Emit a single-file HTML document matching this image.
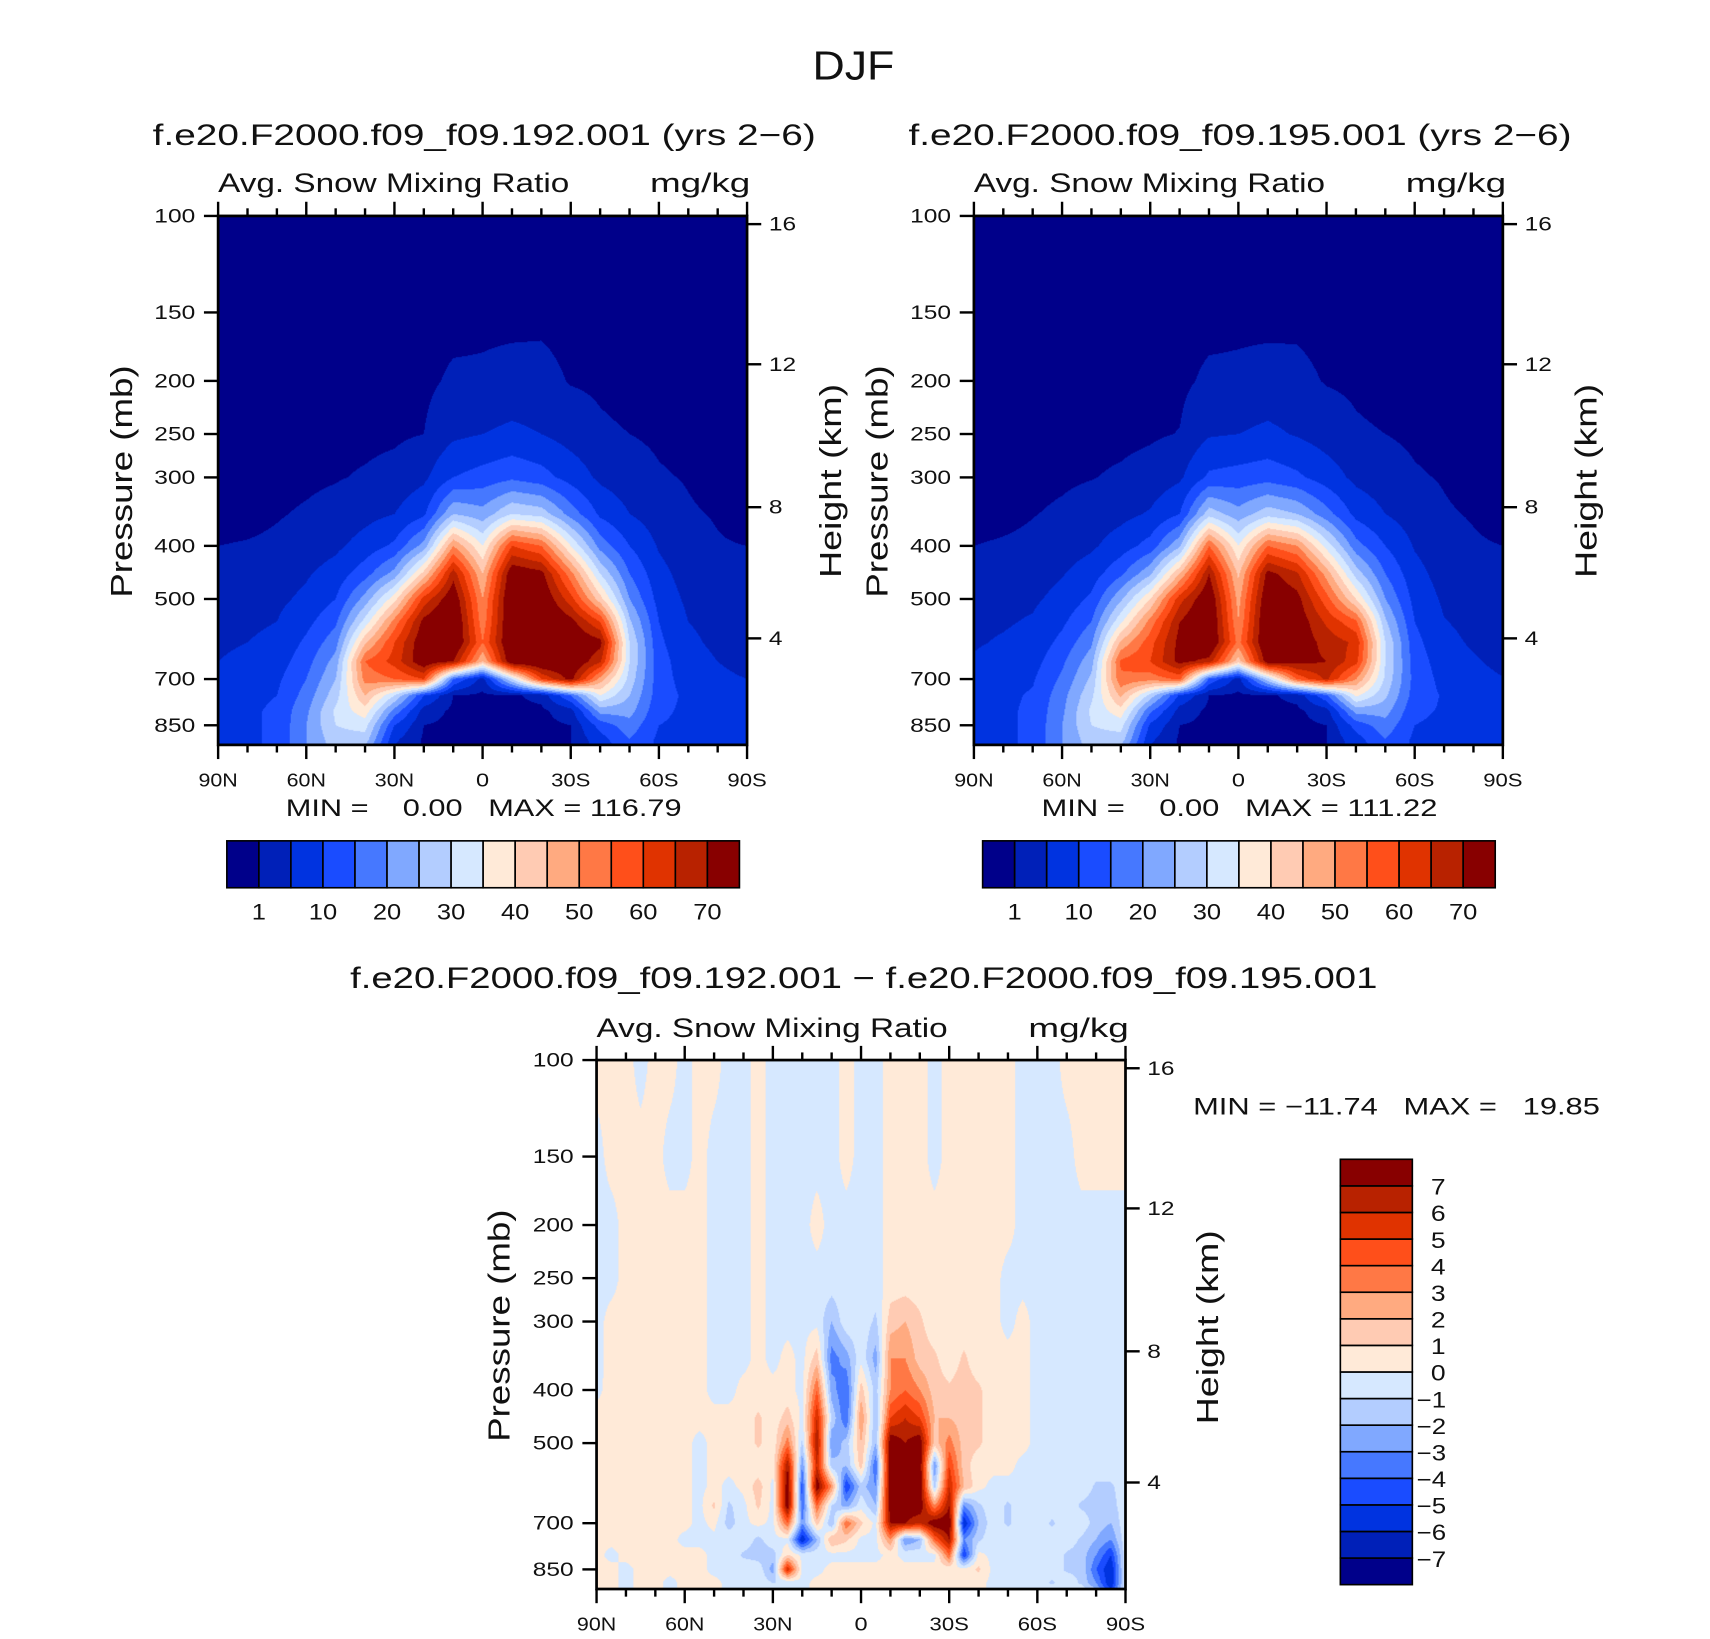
<!DOCTYPE html>
<html>
<head>
<meta charset="utf-8">
<style>
html,body{margin:0;padding:0;background:#fff;overflow:hidden;}
#root{position:absolute;left:0;top:0;width:1560px;height:1495px;transform-origin:0 0;transform:scale(1.0906,1.0906);}
#root svg{position:absolute;left:0;top:0;}
canvas{position:absolute;width:485px;height:485px;}
text{font-family:"Liberation Sans",sans-serif;fill:#111;}
</style>
</head>
<body>
<div id="root">
<canvas id="c1" width="532" height="532" style="left:200px;top:198px"></canvas>
<canvas id="c2" width="532" height="532" style="left:893px;top:198px"></canvas>
<canvas id="c3" width="532" height="532" style="left:547px;top:972px"></canvas>
<svg id="svg" width="1560" height="1495" viewBox="0 0 1560 1495">
<text x="745" y="73" font-size="37" textLength="75" lengthAdjust="spacingAndGlyphs">DJF</text>
<text x="140" y="133" font-size="27" textLength="608" lengthAdjust="spacingAndGlyphs">f.e20.F2000.f09_f09.192.001 (yrs 2−6)</text>
<text x="833" y="133" font-size="27" textLength="608" lengthAdjust="spacingAndGlyphs">f.e20.F2000.f09_f09.195.001 (yrs 2−6)</text>
<text x="321" y="906" font-size="27" textLength="942" lengthAdjust="spacingAndGlyphs">f.e20.F2000.f09_f09.192.001 − f.e20.F2000.f09_f09.195.001</text>
<text x="200" y="176" font-size="25" textLength="322" lengthAdjust="spacingAndGlyphs">Avg. Snow Mixing Ratio</text>
<text x="596" y="176" font-size="25" textLength="92" lengthAdjust="spacingAndGlyphs">mg/kg</text>
<text x="893" y="176" font-size="25" textLength="322" lengthAdjust="spacingAndGlyphs">Avg. Snow Mixing Ratio</text>
<text x="1289" y="176" font-size="25" textLength="92" lengthAdjust="spacingAndGlyphs">mg/kg</text>
<text x="547" y="951" font-size="25" textLength="322" lengthAdjust="spacingAndGlyphs">Avg. Snow Mixing Ratio</text>
<text x="943" y="951" font-size="25" textLength="92" lengthAdjust="spacingAndGlyphs">mg/kg</text>
<text x="262" y="748" font-size="22" textLength="363" lengthAdjust="spacingAndGlyphs" xml:space="preserve">MIN =    0.00   MAX = 116.79</text>
<text x="955" y="748" font-size="22" textLength="363" lengthAdjust="spacingAndGlyphs" xml:space="preserve">MIN =    0.00   MAX = 111.22</text>
<text x="1094" y="1022" font-size="22" textLength="373" lengthAdjust="spacingAndGlyphs" xml:space="preserve">MIN = −11.74   MAX =   19.85</text>
<text transform="translate(121,548) rotate(-90)" font-size="28" textLength="213" lengthAdjust="spacingAndGlyphs">Pressure (mb)</text>
<text transform="translate(771,530) rotate(-90)" font-size="28" textLength="178" lengthAdjust="spacingAndGlyphs">Height (km)</text>
<text transform="translate(814,548) rotate(-90)" font-size="28" textLength="213" lengthAdjust="spacingAndGlyphs">Pressure (mb)</text>
<text transform="translate(1464,530) rotate(-90)" font-size="28" textLength="178" lengthAdjust="spacingAndGlyphs">Height (km)</text>
<text transform="translate(467,1322) rotate(-90)" font-size="28" textLength="213" lengthAdjust="spacingAndGlyphs">Pressure (mb)</text>
<text transform="translate(1117,1306) rotate(-90)" font-size="28" textLength="178" lengthAdjust="spacingAndGlyphs">Height (km)</text>
</svg>
</div>
<script>
// ---------- data ----------
const PRES = [100,150,200,250,300,350,400,450,500,550,600,650,700,750,800,850,900,925];
const LATS = [90,80,70,60,50,40,30,20,10,0,-10,-20,-30,-40,-50,-60,-70,-80,-90];
const LEVELS = [1,5,10,15,20,25,30,35,40,45,50,55,60,65,70];
const LEVEL_LABELS = ["1","10","20","30","40","50","60","70"];
const COLORS = ["#00008a","#0020b8","#0033e0","#1a4cff","#4678ff","#80a8ff","#b3cdff","#d6e8ff","#ffead8","#ffcbb3","#ffaa80","#ff7845","#ff4f1a","#e03300","#b82200","#880000"];

// snow mixing ratio (mg/kg), one column per latitude, rows = PRES
const FIELD192 = [
[0,0,0,0,0,0,1,2,3,4,4,5,6,7,7,7,7,7],
[0,0,0,0,0,0.2,1.2,2.5,3.5,4.3,5,6.5,8,8.5,9,9,9,9],
[0,0,0,0,0.3,0.8,1.5,2.8,4,5,6,7.5,9,10,11,11,11,11],
[0,0,0,0,0.5,1.3,2.5,4.5,6,8.5,11,13,15,17,19,20,20,20],
[0,0,0,0.2,0.8,2,4,7,10,14,18,22,25,28,31,30,28,27],
[0,0,0,0.3,1.3,3.5,7,13,22,32,44,55,52,45,38,32,28,25],
[0,0,0.1,0.5,2,5,11,22,38,52,60,62,55,30,18,10,6,5],
[0,0,0.3,1,4,9,22,42,62,72,75,75,60,10,3,1,0.5,0.5],
[0,0,1.5,4,10,25,50,68,75,78,78,70,15,1,0.3,0.2,0.2,0.2],
[0,0.3,1.5,5,12,22,35,45,50,52,55,45,3,0.3,0.2,0.2,0.2,0.2],
[0,0.2,2,6,14,30,60,75,78,78,78,76,30,0.5,0.2,0.2,0.2,0.2],
[0,0.3,2,5,12,28,55,72,76,78,78,77,60,2,0.3,0.2,0.2,0.2],
[0,0,0.8,3,8,18,35,52,62,72,76,76,72,15,3,1,1,1],
[0,0,0.5,1.5,4,9,18,30,42,60,72,66,48,35,22,12,8,7],
[0,0,0,1,2.5,5,10,15,20,26,30,30,28,25,22,18,15,14],
[0,0,0,0.5,1.3,2.5,4.5,6.5,8,10,11,12,12,12,11,10,9,9],
[0,0,0,0,0.8,1.3,2,3,4,5,6,7,8,9,9,9,8,8],
[0,0,0,0,0,0.8,1.2,2,3,3.5,4,5,6,7,7,7,7,7],
[0,0,0,0,0,0,1,1.5,2,2.5,3,3.5,5,5.5,6,6,6,6]
];
const FIELD195 = [
[0,0,0,0,0,0,1,2,3,4,4.5,5.5,6.5,7,7,7,7,7],
[0,0,0,0,0,0.3,1.3,2.6,3.6,4.5,5.5,7,8.5,9,9,9,9,9],
[0,0,0,0,0.3,0.9,1.6,3,4.2,5.5,6.5,8,9.5,10.5,11,11,11,11],
[0,0,0,0,0.6,1.4,2.7,4.7,6.5,9,11.5,14,16,18,19,20,20,20],
[0,0,0,0.2,0.9,2.2,4.2,7.5,11,15,19,23,26,29,31,30,28,27],
[0,0,0,0.3,1.4,3.6,7.5,14,24,34,46,56,54,46,38,32,28,25],
[0,0,0.1,0.6,2.2,5.5,12,24,40,52,58,60,52,28,16,9,6,5],
[0,0,0.3,1.1,4.2,10,24,45,63,70,72,72,56,9,3,1,0.5,0.5],
[0,0,1.6,4.5,11,28,55,70,76,78,78,68,14,1,0.3,0.2,0.2,0.2],
[0,0.3,1.6,5,12,22,35,44,48,50,53,42,3,0.3,0.2,0.2,0.2,0.2],
[0,0.2,2,6,13,28,55,72,76,78,78,74,28,0.5,0.2,0.2,0.2,0.2],
[0,0.3,1.8,4.6,11,25,50,66,72,74,74,72,56,2,0.3,0.2,0.2,0.2],
[0,0,0.8,2.8,7.5,17,33,48,57,64,68,70,66,14,3,1,1,1],
[0,0,0.5,1.4,3.8,8.5,17,28,40,56,64,62,50,36,22,12,8,7],
[0,0,0,1,2.4,5,10,15,20,26,30,30,29,26,22,18,15,14],
[0,0,0,0.5,1.3,2.5,4.6,6.6,8.3,10,11.5,12.5,13,12.5,11,10,9,9],
[0,0,0,0,0.8,1.3,2.1,3.1,4.2,5.2,6.3,7.5,8.5,9.5,9.5,9,8,8],
[0,0,0,0,0,0.8,1.3,2.1,3.2,3.8,4.4,5.5,6.5,7.5,7.5,7.5,7,7],
[0,0,0,0,0,0,1,1.5,2.1,2.6,3.2,3.8,5.2,5.8,6,6,6,6]
];

const LATS_DIFF = [90,85,80,75,70,65,60,55,50,45,40,35,30,25,20,15,10,5,0,-5,-10,-15,-20,-25,-30,-35,-40,-45,-50,-55,-60,-65,-70,-75,-80,-85,-90];
const LEVELS_DIFF = [-7,-6,-5,-4,-3,-2,-1,0,1,2,3,4,5,6,7];
const DIFF_LABELS = ["−7","−6","−5","−4","−3","−2","−1","0","1","2","3","4","5","6","7"];
const FIELD_DIFF = [
[.3,-.3,-.3,-.3,-.3,-.3,-.2,.3,.3,.3,.3,.3,.3,.3,.3,.3,.3,.3],
[.3,.3,-.3,-.3,.3,.3,.3,.3,.3,.3,.3,.3,.3,.3,-.3,.3,.3,.3],
[.3,.3,.3,.3,.3,.3,.3,.3,.3,.3,.3,.3,.3,.3,.3,-.3,-.3,-.3],
[-.3,.3,.3,.3,.3,.3,.3,.3,.3,.3,.3,.3,.3,.3,.3,.3,.3,.3],
[.3,.3,.3,.3,.3,.3,.3,.3,.3,.3,.3,.3,.3,.3,.3,.3,.3,.3],
[.3,-.3,.3,.3,.3,.3,.3,.3,.3,.3,.3,.3,.3,.3,.3,.3,-.3,-.3],
[-.3,-.3,.3,.3,.3,.3,.3,.3,.3,.3,.3,.3,.3,-.3,.3,.3,.3,.3],
[.3,.3,.3,.3,.3,.3,.3,.3,-.3,-.3,-.3,-.3,-.3,-.3,.3,.3,.3,.3],
[.3,-.3,-.3,-.3,-.3,-.3,-.3,.3,.3,.3,.3,1.2,.3,-.3,-.3,-.3,.3,.3],
[-.3,-.3,-.3,-.3,-.3,-.3,-.3,.3,.3,.3,-.3,-1.2,-1.5,-.3,-.3,-.3,-.3,-.3],
[-.3,-.3,-.3,-.3,-.3,-.3,.3,.3,.3,.3,.3,-.3,-.3,-.3,-1.2,-.3,-.3,-.3],
[.3,.3,.3,.3,.3,.3,.3,1.2,1.2,.3,1.5,1.2,.3,-1.3,-1.5,-.3,-.3,-.3],
[-.3,-.3,-.3,-.3,-.3,-.3,.3,.3,.3,.3,-.3,-.3,-.3,-.3,-1.5,-2.5,-1,-.3],
[-.3,-.3,-.3,-.3,-.3,.3,.3,1.5,3.5,7,8,8,4,-.3,1,6,-1,-.3],
[-.3,-.3,-.3,-.3,-.3,-.3,-.3,-.3,-1.2,-3,-4.5,-4,-3,-6,-.3,-.3,-.3,-.3],
[-.3,-.3,.3,-.3,-.3,1.5,4,6,7,6,8,4,1.5,-2,-.3,-.3,.3,.3],
[-.3,-.3,-.3,-.3,-2,-3.5,-2.5,-1.2,-3,-1.5,3,-1,-2,2,-.3,.3,.3,.3],
[.3,.3,-.3,-.3,-.3,-2.5,-4,-4,-1.5,-2,-5,-2.5,4,1.2,-.3,.3,.3,.3],
[-.3,-.3,-.3,-.3,-.3,-.3,1.5,3,2,1.5,-1.5,-.3,1.2,-.3,-.3,.3,.3,.3],
[-.3,-.3,-.3,-.3,-1.2,-2.5,-1.5,-2,-2,-4,-3,-2,-.3,-.3,-.3,.3,.3,.3],
[.3,.3,.3,.3,1.5,3,3,5,8,8,8,8,7,3,.3,.3,.3,.3],
[.3,.3,.3,.3,2,3,4,6,7,8,8,8,7,-3,-.3,.3,.3,.3],
[.3,.3,.3,.3,1.2,1.5,3,5,8,8,8,8,6,-2,-.3,.3,.3,.3],
[-.3,-.3,.3,.3,.3,1.2,1.5,2,1.5,-3,-1.5,3,8,4,-.3,.3,.3,.3],
[.3,.3,.3,.3,.3,.3,1.2,2,3.5,5,6,7,8,7,4,.3,.3,.3],
[.3,.3,.3,.3,.3,1.2,1.5,1.5,1.5,1.5,2,-3,-6,-3,-5,.3,.3,.3],
[.3,.3,.3,.3,.3,.3,1.2,1.2,1.2,.3,.3,-1.2,-2,-1.2,.3,1.2,.3,.3],
[.3,.3,.3,.3,.3,.3,.3,.3,.3,.3,-.3,-.3,-.3,-.3,-.3,-.3,-.3,-.3],
[.3,.3,.3,-.3,-.3,.3,.3,.3,.3,.3,-.3,-1.2,-1.2,-.3,-.3,-.3,-.3,-.3],
[-.3,-.3,-.3,-.3,.3,.3,.3,.3,.3,-.3,-.3,-.3,-.3,-.3,-.3,-.3,-.3,-.3],
[-.3,-.3,-.3,-.3,-.3,-.3,-.3,-.3,-.3,-.3,-.3,-.3,-.3,-.3,-.3,-.3,-.3,-.3],
[-.3,-.3,-.3,-.3,-.3,-.3,-.3,-.3,-.3,-.3,-.3,-.3,-1.2,-.3,-.3,-.3,-1.2,-.3],
[.3,-.3,-.3,-.3,-.3,-.3,-.3,-.3,-.3,-.3,-.3,-.3,-.3,-.3,-1.2,-1.2,-.3,-.3],
[.3,.3,-.3,-.3,-.3,-.3,-.3,-.3,-.3,-.3,-.3,-1.2,-.3,-1.2,-1.5,-1.2,-1.2,-.3],
[.3,.3,-.3,-.3,-.3,-.3,-.3,-.3,-.3,-.3,-1.2,-1.5,-1.5,-2,-3,-4,-3,-2],
[.3,.3,-.3,-.3,-.3,-.3,-.3,-.3,-.3,-.3,-1.2,-1.5,-2,-3,-5,-6,-6,-5],
[.3,.3,-.3,-.3,-.3,-.3,-.3,-.3,-.3,-.3,-.3,-.3,-.3,-.3,-.3,-.3,-.3,-.3]
];

const P_TICKS = [100,150,200,250,300,400,500,700,850];
const H_TICKS = ["16","12","8","4"];
const H_TICK_P = [103.5,186.5,340,590]; // pressure at height ticks
const X_TICKS = [90,60,30,0,-30,-60,-90];
const X_LABELS = ["90N","60N","30N","0","30S","60S","90S"];

// ---------- scales ----------
const PLOT = 485, PTOP = 100, PBOT = 923;
function yScale(p){ return Math.log(p/PTOP)/Math.log(PBOT/PTOP)*PLOT; }
function pFromY(y){ return PTOP*Math.exp(y/PLOT*Math.log(PBOT/PTOP)); }
function xScale(lat){ return (90-lat)/180*PLOT; }

function quant(v, levels){ let i=0; while(i<levels.length && v>=levels[i]) i++; return i; }

function sample(field, lats, lat, p){
  let ci = 0; while(ci<lats.length-2 && lat < lats[ci+1]) ci++;
  let tx = (lats[ci]-lat)/(lats[ci]-lats[ci+1]); tx=Math.max(0,Math.min(1,tx));
  let ri = 0; while(ri<PRES.length-2 && p > PRES[ri+1]) ri++;
  let ty = (Math.log(p)-Math.log(PRES[ri]))/(Math.log(PRES[ri+1])-Math.log(PRES[ri])); ty=Math.max(0,Math.min(1,ty));
  const a=field[ci][ri], b=field[ci+1][ri], c=field[ci][ri+1], d=field[ci+1][ri+1];
  return (a*(1-tx)+b*tx)*(1-ty)+(c*(1-tx)+d*tx)*ty;
}

function hex(c){ return [parseInt(c.slice(1,3),16),parseInt(c.slice(3,5),16),parseInt(c.slice(5,7),16)]; }
const RGB = COLORS.map(hex);

function drawField(id, field, lats, levels){
  const cv=document.getElementById(id), ctx=cv.getContext('2d');
  const W=cv.width, H=cv.height, img=ctx.createImageData(W,H);
  for(let j=0;j<H;j++){
    const p=pFromY((j+0.5)/H*PLOT);
    for(let i=0;i<W;i++){
      const lat=90-((i+0.5)/W)*180;
      const v=sample(field,lats,lat,p);
      const c=RGB[quant(v,levels)], k=(j*W+i)*4;
      img.data[k]=c[0];img.data[k+1]=c[1];img.data[k+2]=c[2];img.data[k+3]=255;
    }
  }
  ctx.putImageData(img,0,0);
}
drawField('c1',FIELD192,LATS,LEVELS);
drawField('c2',FIELD195,LATS,LEVELS);
drawField('c3',FIELD_DIFF,LATS_DIFF,LEVELS_DIFF);

// ---------- axes ----------
const NS='http://www.w3.org/2000/svg', svg=document.getElementById('svg');
function mk(tag, attrs, name){
  const e=document.createElementNS(NS,tag);
  for(const k in attrs) e.setAttribute(k,attrs[k]);
  
  
  svg.appendChild(e); return e;
}
function line(x1,y1,x2,y2,w,name){ return mk('line',{x1:x1,y1:y1,x2:x2,y2:y2,stroke:'#000','stroke-width':w},name); }
function txt(x,y,s,size,anchor,name,cw){
  const t=mk('text',{x:x,y:y,'font-size':size,'text-anchor':anchor,textLength:cw*s.length,lengthAdjust:'spacingAndGlyphs'},name);
  t.textContent=s; return t;
}

function axes(ox, oy, key){
  mk('rect',{x:ox,y:oy,width:PLOT,height:PLOT,fill:'none',stroke:'#000','stroke-width':2.5},key+'-plot-frame');
  P_TICKS.forEach(p=>{
    const y=oy+yScale(p);
    line(ox-13,y,ox,y,2.2,key+'-y-tick');
    txt(ox-21,y+6,String(p),18,'end',key+'-y-tick-label',12.5);
  });
  H_TICK_P.forEach((p,i)=>{
    const y=oy+yScale(p);
    line(ox+PLOT,y,ox+PLOT+13,y,2.2,key+'-height-tick');
    txt(ox+PLOT+20,y+6,H_TICKS[i],18,'start',key+'-height-tick-label',12.5);
  });
  for(let lat=90;lat>=-90;lat-=10){
    const x=ox+xScale(lat), major=(lat%30===0), L=major?13:7;
    line(x,oy-L,x,oy,2.2,key+'-top-tick');
    line(x,oy+PLOT,x,oy+PLOT+L,2.2,key+'-x-tick');
  }
  X_TICKS.forEach((lat,i)=>{
    txt(ox+xScale(lat),oy+PLOT+38,X_LABELS[i],17,'middle',key+'-x-tick-label',12);
  });
}
axes(200,198,'left');
axes(893,198,'right');
axes(547,972,'diff');

// ---------- colorbars ----------
function hbar(ox,oy,key){
  const w=470/16;
  COLORS.forEach((c,i)=>{
    mk('rect',{x:ox+i*w,y:oy,width:w,height:43,fill:c,stroke:'#000','stroke-width':1.5},key+'-colorbar-box');
  });
  LEVEL_LABELS.forEach((s,i)=>{
    txt(ox+(2*i+1)*w,oy+72,s,20,'middle',key+'-colorbar-label',13);
  });
}
hbar(208,771,'left');
hbar(901,771,'right');

(function vbar(){
  const ox=1229, oy=1063, h=390/16;
  COLORS.forEach((c,i)=>{
    mk('rect',{x:ox,y:oy+(15-i)*h,width:66,height:h,fill:c,stroke:'#000','stroke-width':1.5},'diff-colorbar-box');
  });
  DIFF_LABELS.forEach((s,i)=>{
    const y=oy+(15-i)*h;
    const x = s.length>1 ? ox+70 : ox+70+13;
    txt(x,y+8,s,20,'start','diff-colorbar-label',13.5);
  });
})();
</script>
</body>
</html>
